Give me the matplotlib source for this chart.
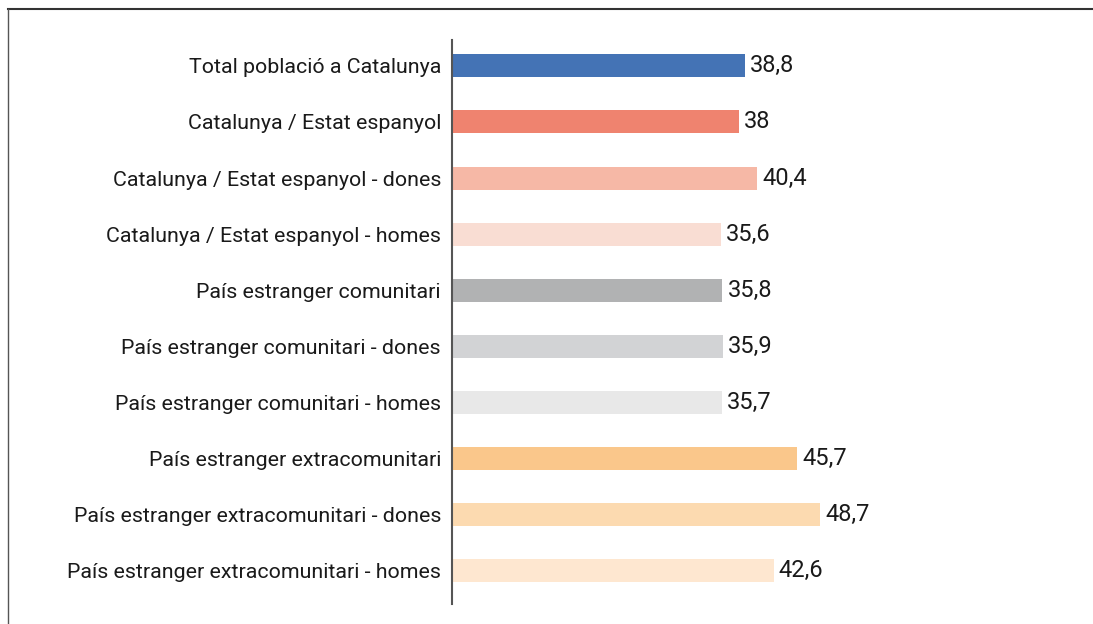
import matplotlib.pyplot as plt
from matplotlib.lines import Line2D

categories = [
    "Total població a Catalunya",
    "Catalunya / Estat espanyol",
    "Catalunya / Estat espanyol - dones",
    "Catalunya / Estat espanyol - homes",
    "País estranger comunitari",
    "País estranger comunitari - dones",
    "País estranger comunitari - homes",
    "País estranger extracomunitari",
    "País estranger extracomunitari - dones",
    "País estranger extracomunitari - homes",
]
values = [38.8, 38.0, 40.4, 35.6, 35.8, 35.9, 35.7, 45.7, 48.7, 42.6]
colors = [
    "#4473B5", "#EF836F", "#F6B8A6", "#F9DDD3",
    "#B1B2B3", "#D2D3D5", "#E8E8E8",
    "#FAC78B", "#FCDAB0", "#FEE7D0",
]

plt.rcParams['font.family'] = ['Roboto', 'DejaVu Sans']

fig = plt.figure(figsize=(10.93, 6.24), dpi=100)
ax = fig.add_axes([452 / 1093, 1 - 604 / 624, 548 / 1093, 564 / 624])

y = list(range(len(categories)))
ax.barh(y, values, height=0.41, color=colors)
ax.set_yticks(y)
ax.set_yticklabels(categories, fontsize=15.4, color="#1a1a1a")
ax.tick_params(axis='y', length=0, pad=8)
ax.set_xticks([])
ax.set_xlim(0, 548 / 7.55)
ax.set_ylim(9.59, -0.46)

for s in ['top', 'right', 'bottom']:
    ax.spines[s].set_visible(False)
ax.spines['left'].set_color("#555555")
ax.spines['left'].set_linewidth(1.5)

for yi, v in zip(y, values):
    label = f"{v:g}".replace('.', ',')
    ax.text(v + 0.7, yi, label, va='center', ha='left', fontsize=17, color="#1a1a1a")

# outer frame: top and left edges only
fig.add_artist(Line2D([8 / 1093, 1], [1 - 9 / 624, 1 - 9 / 624], transform=fig.transFigure,
                      color="#333333", linewidth=1.5))
fig.add_artist(Line2D([8 / 1093, 8 / 1093], [0, 1 - 9 / 624], transform=fig.transFigure,
                      color="#555555", linewidth=1.0))

fig.savefig("out.png", dpi=100)
